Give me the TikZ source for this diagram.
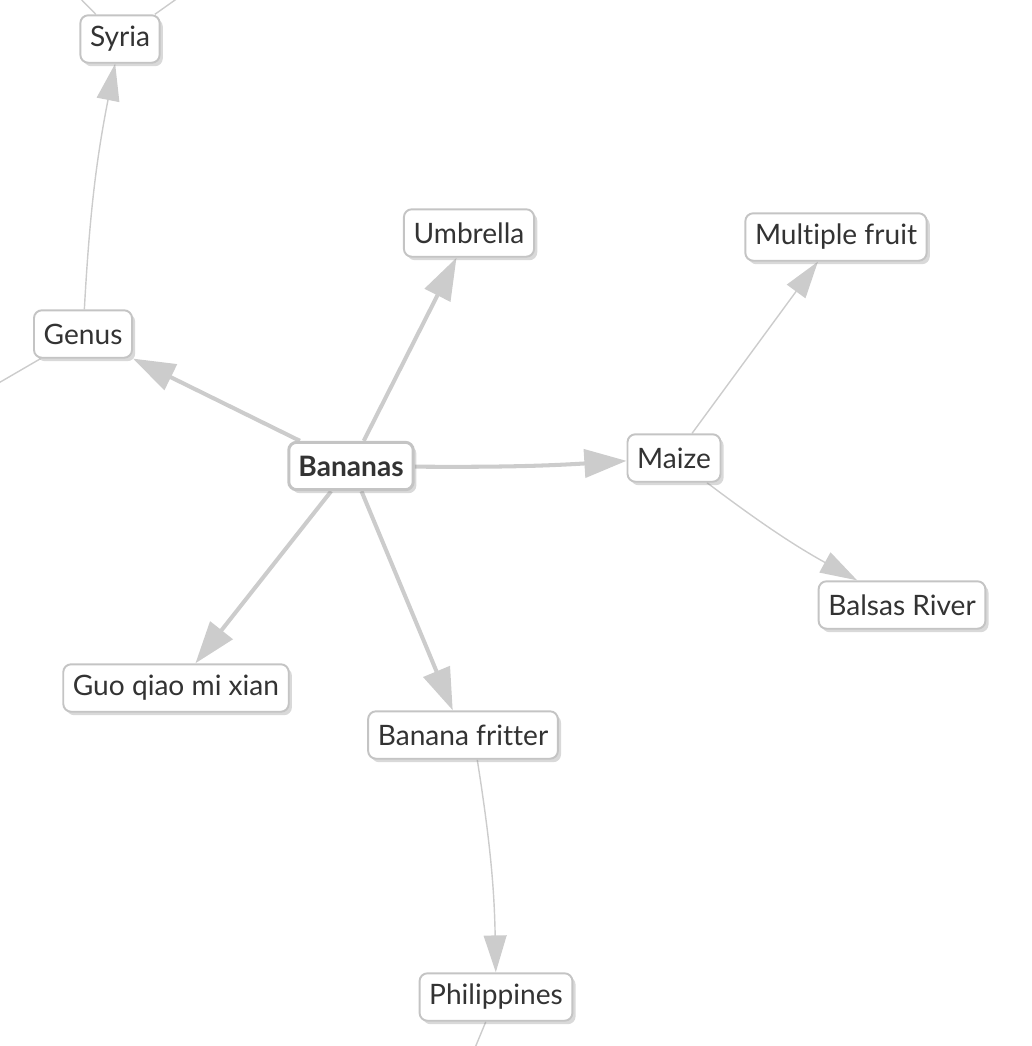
\documentclass[tikz,border=0pt]{standalone}
\usepackage{fontspec}
\setmainfont{Lato}[Ligatures=NoCommon]
\usepackage{tikz}
\usetikzlibrary{arrows.meta,shadows,positioning,backgrounds}
\definecolor{linegray}{HTML}{CCCCCC}
\definecolor{boxgray}{HTML}{C4C4C4}
\definecolor{txtgray}{HTML}{333333}

\begin{document}
\begin{tikzpicture}[x=0.02cm,y=-0.02cm,
  topic/.style={draw=boxgray,line width=1.1pt,fill=white,rounded corners=4.5pt,
    text=txtgray,font=\fontsize{16}{18}\selectfont,minimum height=27pt,inner xsep=5.5pt,
    drop shadow={shadow xshift=1.8pt,shadow yshift=-2pt,opacity=0.3}},
  hub/.style={topic,line width=1.7pt,font=\fontsize{16}{18}\selectfont\bfseries},
  thick link/.style={draw=linegray,line width=2.3pt,-{Triangle[length=24pt,width=16pt]}},
  thin link/.style={draw=linegray,line width=0.8pt,-{Triangle[length=21pt,width=13pt]}},
  loose link/.style={draw=linegray,line width=0.8pt}]
\useasboundingbox (0,0) rectangle (1032,1046);
\node[hub] (Ban) at (351,466) {Bananas};
\node[topic] (Syr) at (120,39) {Syria};
\node[topic] (Umb) at (469,233) {Umbrella};
\node[topic] (Mul) at (836,237) {Multiple fruit};
\node[topic] (Gen) at (83,334) {Genus};
\node[topic] (Mai) at (674,458) {Maize};
\node[topic] (Bal) at (902,605) {Balsas River};
\node[topic] (Guo) at (176,688) {Guo qiao mi xian};
\node[topic] (Fri) at (463,735) {Banana fritter};
\node[topic] (Phi) at (496,997) {Philippines};
\coordinate (GenOut) at (-10,388);
\coordinate (SyrL) at (70,-12);
\coordinate (SyrR) at (192,-12);
\coordinate (PhiOut) at (470,1060);
\begin{pgfonlayer}{background}
\path
(Ban) edge[thick link] (Gen)
(Ban) edge[thick link] (Umb)
(Ban) edge[thick link,bend right=2] (Mai)
(Ban) edge[thick link] (Guo)
(Ban) edge[thick link] (Fri)
(Gen) edge[thin link,bend left=4] (Syr)
(Mai) edge[thin link] (Mul)
(Mai) edge[thin link,bend right=4] (Bal)
(Fri.300) edge[thin link,bend left=4] (Phi)
(Gen) edge[loose link] (GenOut)
(Syr) edge[loose link] (SyrL)
(Syr) edge[loose link] (SyrR)
(Phi) edge[loose link] (PhiOut);
\end{pgfonlayer}
\end{tikzpicture}
\end{document}
